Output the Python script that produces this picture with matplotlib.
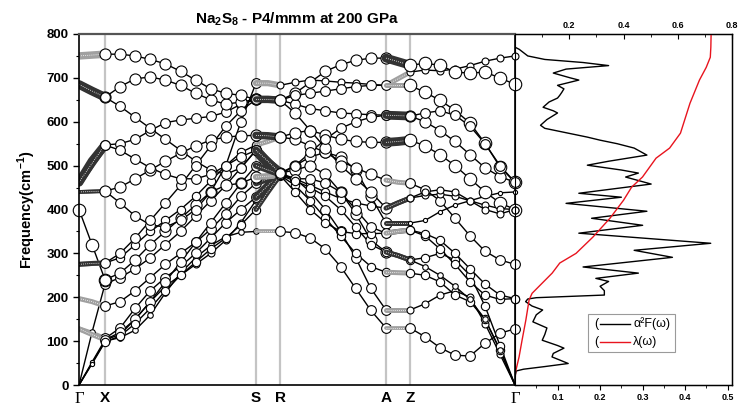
import numpy as np
import matplotlib
matplotlib.use("Agg")
import matplotlib.pyplot as plt
from matplotlib.patches import Rectangle
from matplotlib.lines import Line2D

plt.rcParams['font.family'] = ['Liberation Sans', 'DejaVu Sans']
plt.rcParams['mathtext.fontset'] = 'custom'
plt.rcParams['mathtext.rm'] = 'Liberation Sans'
plt.rcParams['mathtext.bf'] = 'Liberation Sans:bold'

# high symmetry path (distance along path) and labels
sym_pos = [0, 26, 177, 201, 307, 331, 436]
sym_labels = ['Γ', 'X', 'S', 'R', 'A', 'Z', 'Γ']
seg_steps = [2, 10, 2, 7, 2, 7]

# phonon branches, frequency (cm-1) at the 31 path points
b01 = [0, 50, 100, 108, 125, 160, 210, 255, 290, 318, 338, 348, 350, 350, 350,
       347, 335, 310, 270, 220, 170, 130, 130, 130, 110, 85, 68, 66, 95, 118, 128]
b02 = [0, 52, 103, 115, 150, 190, 225, 250, 275, 300, 330, 370, 421, 450, 478,
       470, 440, 400, 350, 290, 220, 171, 171, 171, 185, 205, 215, 200, 140, 70, 0]
b03 = [128, 118, 106, 130, 175, 215, 245, 270, 300, 335, 370, 400, 428, 455, 480,
       500, 520, 530, 520, 490, 430, 369, 369, 369, 375, 395, 410, 420, 430, 438, 440]
b04 = [197, 190, 180, 190, 215, 245, 275, 300, 325, 355, 390, 430, 460, 470, 478,
       455, 420, 380, 340, 300, 270, 257, 256, 255, 250, 235, 205, 190, 150, 80, 0]
b05 = [0, 120, 230, 245, 265, 290, 320, 350, 385, 420, 455, 495, 535, 505, 483,
       490, 500, 480, 440, 390, 330, 303, 295, 285, 290, 300, 285, 250, 180, 90, 0]
b06 = [400, 320, 240, 255, 285, 320, 350, 380, 410, 440, 455, 460, 474, 476, 478,
       440, 400, 370, 350, 345, 345, 346, 350, 353, 340, 310, 275, 235, 205, 195, 197]
b07 = [275, 277, 278, 290, 320, 350, 375, 400, 430, 465, 500, 530, 547, 555, 565,
       560, 545, 530, 510, 495, 480, 467, 462, 460, 445, 420, 380, 340, 305, 285, 275]
b08 = [440, 441, 442, 415, 385, 365, 360, 375, 400, 440, 500, 600, 688, 688, 683,
       690, 695, 693, 690, 688, 685, 683, 698, 713, 718, 716, 720, 728, 738, 745, 750]
b09 = [440, 441, 442, 451, 470, 490, 510, 528, 545, 558, 565, 568, 569, 568, 565,
       575, 580, 570, 560, 555, 553, 553, 555, 558, 545, 525, 500, 470, 440, 415, 400]
b10 = [462, 510, 547, 550, 560, 580, 598, 604, 608, 612, 622, 640, 651, 651, 649,
       640, 630, 625, 620, 618, 616, 615, 614, 613, 600, 580, 555, 525, 495, 475, 462]
b11 = [685, 670, 656, 680, 698, 702, 695, 683, 665, 650, 640, 645, 651, 651, 649,
       665, 690, 715, 730, 740, 745, 745, 737, 729, 733, 729, 713, 711, 713, 700, 685]
b12 = [750, 752, 754, 754, 750, 742, 732, 715, 695, 675, 665, 660, 651, 651, 649,
       660, 665, 670, 675, 680, 683, 683, 683, 683, 667, 649, 626, 597, 551, 497, 462]
b13 = [685, 670, 656, 635, 610, 585, 560, 535, 510, 490, 480, 495, 535, 505, 483,
       470, 455, 440, 425, 415, 408, 403, 415, 426, 432, 435, 430, 420, 410, 402, 400]
b14 = [275, 277, 278, 300, 335, 375, 415, 455, 500, 545, 590, 625, 651, 651, 649,
       620, 580, 540, 500, 470, 440, 403, 415, 426, 440, 445, 440, 420, 400, 390, 400]
b15 = [128, 115, 103, 120, 150, 190, 235, 280, 325, 370, 415, 460, 500, 490, 480,
       470, 470, 460, 440, 400, 360, 346, 350, 353, 345, 330, 300, 265, 230, 205, 197]
b16 = [0, 48, 98, 112, 140, 175, 215, 250, 280, 310, 335, 365, 400, 440, 478,
       465, 450, 430, 400, 360, 320, 303, 295, 285, 270, 250, 225, 195, 150, 80, 0]
b17 = [462, 505, 547, 535, 515, 495, 480, 470, 470, 480, 500, 520, 535, 510, 483,
       500, 530, 560, 585, 600, 610, 615, 614, 613, 620, 625, 615, 590, 550, 500, 462]
bands = [b01, b02, b03, b04, b05, b06, b07, b08, b09, b10, b11, b12, b13, b14,
         b15, b16, b17]

# marker diameter (pt) per branch and segment: G-X, X-S, S-R, R-A, A-Z, Z-G
sizes = [[3, 4, 3, 7, 3, 7], [3, 5, 5, 7, 4, 5], [4, 7, 6, 8, 4, 3],
         [4, 7, 5, 6, 4, 6], [4, 7, 8, 8, 4, 6], [9, 8, 5, 6, 4, 6],
         [4, 6, 4, 8, 4, 7], [3, 7, 5, 5, 4, 5], [3, 8, 6, 8, 7, 9],
         [7, 7, 5, 7, 7, 8], [7, 8, 6, 8, 7, 9], [6, 8, 5, 7, 4, 9],
         [6, 7, 7, 6, 4, 5], [4, 7, 5, 8, 4, 5], [4, 7, 5, 7, 4, 6],
         [3, 6, 4, 6, 4, 4], [6, 7, 6, 7, 6, 7]]
grey_segs = {(0, 2), (0, 4), (1, 4), (2, 0), (3, 0), (3, 4), (5, 2), (6, 0),
             (6, 2), (6, 4), (7, 2), (7, 4), (11, 0), (11, 4), (14, 0), (14, 4)}
open_segs = {(5, 0), (4, 0), (0, 0), (1, 0), (15, 0)}

# Eliashberg function and lambda, vs frequency
a2f_freq = [0, 20, 32, 36, 42, 49, 55, 64, 72, 84, 90, 102, 115, 130, 144, 160,
            171, 180, 190, 196, 199, 205, 215, 225, 236, 243, 255, 269, 291, 307,
            323, 346, 364, 380, 396, 414, 428, 437, 458, 474, 483, 490, 501, 510,
            524, 540, 550, 558, 565, 575, 585, 592, 605, 620, 625, 633, 645, 654,
            660, 667, 675, 683, 695, 700, 711, 720, 728, 735, 742, 750, 765, 770]
a2f_val = [0, 0, 0.003, 0.02, 0.07, 0.125, 0.11, 0.087, 0.09, 0.115, 0.10, 0.064,
           0.07, 0.075, 0.042, 0.05, 0.065, 0.04, 0.025, 0.03, 0.05, 0.21, 0.21,
           0.20, 0.22, 0.19, 0.29, 0.16, 0.37, 0.28, 0.46, 0.15, 0.30, 0.18, 0.31,
           0.12, 0.25, 0.15, 0.32, 0.26, 0.29, 0.25, 0.17, 0.22, 0.31, 0.28, 0.24,
           0.20, 0.17, 0.12, 0.07, 0.06, 0.075, 0.10, 0.09, 0.066, 0.08, 0.10,
           0.105, 0.11, 0.115, 0.10, 0.15, 0.13, 0.09, 0.12, 0.22, 0.16, 0.07,
           0.03, 0.01, 0]
lam_freq = [0, 30, 64, 102, 148, 194, 209, 232, 255, 278, 300, 337, 380, 421, 451,
            474, 517, 540, 574, 642, 695, 724, 747, 770, 800]
lam_val = [0, 0.002, 0.015, 0.026, 0.04, 0.052, 0.063, 0.10, 0.137, 0.165, 0.225,
           0.287, 0.35, 0.40, 0.43, 0.47, 0.52, 0.57, 0.61, 0.645, 0.68, 0.705,
           0.72, 0.722, 0.723]

# k grid along the path
k = [0.0]
for i, n in enumerate(seg_steps):
    k += list(np.linspace(sym_pos[i], sym_pos[i + 1], n + 1)[1:])
k = np.array(k)
seg_start = np.cumsum([0] + seg_steps)

W, H = 738, 407
fig = plt.figure(figsize=(W / 100, H / 100), dpi=100)
ax2 = fig.add_axes([515 / W, 1 - 385 / H, 217 / W, 351 / H])
ax = fig.add_axes([79 / W, 1 - 385 / H, 436 / W, 351 / H])
ax.patch.set_alpha(0)

for p in sym_pos[1:-1]:
    ax.axvline(p, color='#c4c4c4', lw=1.6, zorder=0)

for bi, band in enumerate(bands):
    f = np.array(band)
    ax.plot(k, f, color='k', lw=1.0, zorder=1)
    for si in range(6):
        a, b = seg_start[si], seg_start[si + 1] + 1
        grey = (bi, si) in grey_segs
        ec = '#8a8a8a' if grey else 'k'
        if si in (0, 2, 4) and (bi, si) not in open_segs:
            # short segments: circles packed into a dense band
            ax.plot(k[a:b], f[a:b], color='#a0a0a0' if grey else '#333333',
                    lw=sizes[bi][si] * 0.9, solid_capstyle='round', zorder=2)
            ax.plot(k[a:b], f[a:b], color='white', lw=0.6, ls=(0, (1, 1.5)),
                    zorder=2)
        else:
            ks, fs = k[a:b], f[a:b]
            keep = fs > 0
            ax.plot(ks[keep], fs[keep], ls='none', marker='o', ms=sizes[bi][si],
                    mfc='white', mec=ec, mew=0.8, zorder=2, clip_on=False)

ax.set_xlim(0, 436)
ax.set_ylim(0, 800)
ax.set_xticks(sym_pos)
ax.set_xticklabels(sym_labels, fontsize=11, fontweight='bold')
for t in (ax.get_xticklabels()[0], ax.get_xticklabels()[-1]):
    t.set_fontfamily('Liberation Serif')
    t.set_fontweight('normal')
    t.set_fontsize(12)
ax.tick_params(axis='x', length=0, pad=4)
ax.set_yticks(range(0, 801, 100))
ax.set_yticks(range(50, 800, 100), minor=True)
ax.tick_params(axis='y', direction='out', length=4, width=1, labelsize=9.5)
ax.tick_params(axis='y', which='minor', direction='out', length=2.5, width=0.8)
for t in ax.get_yticklabels():
    t.set_fontweight('bold')
ax.set_ylabel(r'Frequency(cm$^\mathbf{-1}$)', fontsize=10.5, fontweight='bold',
              labelpad=6)
ax.spines['top'].set_color('#555555')
ax.spines['top'].set_linewidth(1.6)
ax.spines['right'].set_visible(False)
ax.spines['left'].set_linewidth(1.2)
ax.spines['bottom'].set_linewidth(1.2)
ax.set_title(r'Na$_\mathbf{2}$S$_\mathbf{8}$ - P4/mmm at 200 GPa', fontsize=11,
             fontweight='bold', pad=8)

# right panel
ax2.plot(a2f_val, a2f_freq, color='k', lw=1.0)
ax2.set_xlim(0, 0.51)
ax2.set_ylim(0, 800)
ax2.set_yticks([])
ax2.set_xticks([0.1, 0.2, 0.3, 0.4, 0.5])
ax2.set_xticks([0.05, 0.15, 0.25, 0.35, 0.45], minor=True)
ax2.tick_params(axis='x', direction='out', length=3.5, labelsize=6.5, pad=2)
ax2.tick_params(axis='x', which='minor', direction='out', length=2)
for t in ax2.get_xticklabels():
    t.set_fontweight('bold')
for s in ax2.spines.values():
    s.set_linewidth(1.0)
ax2.spines['left'].set_linewidth(1.2)

ax3 = ax2.twiny()
ax3.patch.set_alpha(0)
ax3.plot(lam_val, lam_freq, color='#e8141e', lw=1.0)
ax3.set_xlim(0, 0.8)
ax3.set_ylim(0, 800)
ax3.set_xticks([0.2, 0.4, 0.6, 0.8])
ax3.set_xticks([0.1, 0.3, 0.5, 0.7], minor=True)
ax3.tick_params(axis='x', direction='in', length=3.5, labelsize=6.5, pad=3)
ax3.tick_params(axis='x', which='minor', direction='in', length=2)
for t in ax3.get_xticklabels():
    t.set_fontweight('bold')

# legend box
ax2.add_patch(Rectangle((0.336, 0.094), 0.40, 0.108, transform=ax2.transAxes,
                        facecolor='white', edgecolor='#9a9a9a', lw=0.8, zorder=5))
for yy, col, lab in [(0.175, 'k', 'α²F(ω)'), (0.122, '#e8141e', 'λ(ω)')]:
    ax2.text(0.365, yy, '(', transform=ax2.transAxes, fontsize=9,
             va='center', ha='left', zorder=6)
    ax2.add_line(Line2D([0.39, 0.53], [yy, yy], transform=ax2.transAxes,
                        color=col, lw=1.0, zorder=6))
    ax2.text(0.545, yy, lab, transform=ax2.transAxes, fontsize=9,
             va='center', ha='left', zorder=6)

fig.savefig('out.png', dpi=100)
